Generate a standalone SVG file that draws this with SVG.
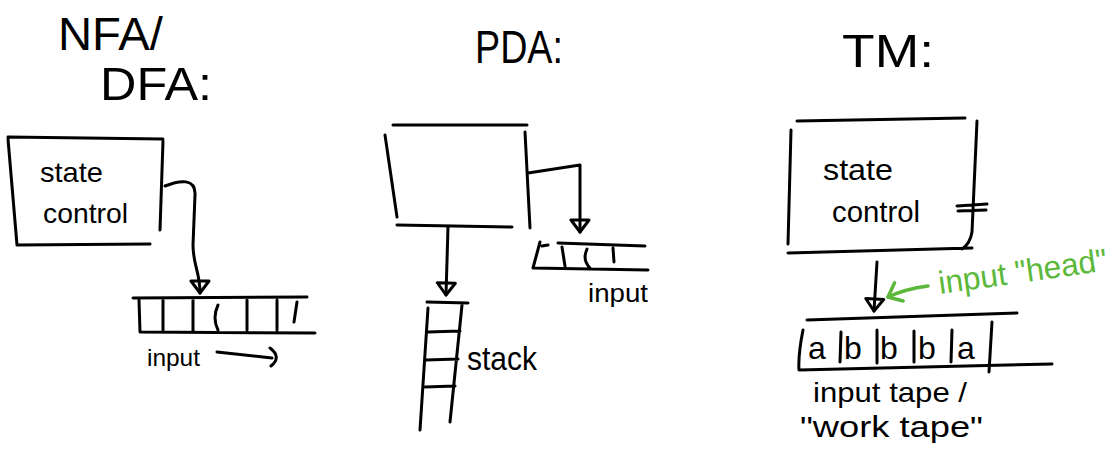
<svg xmlns="http://www.w3.org/2000/svg" width="1113" height="449" viewBox="0 0 1113 449">
<defs>
<style>
.ln{fill:none;stroke:#000;stroke-width:3;stroke-linecap:round;stroke-linejoin:round}
.gl{fill:none;stroke:#5cb83a;stroke-width:3.5;stroke-linecap:round;stroke-linejoin:round}
.t{font-family:"Liberation Sans",Arial,sans-serif;fill:#000}
.g{font-family:"Liberation Sans",Arial,sans-serif;fill:#5cb83a}
</style>
<marker id="tri" viewBox="0 0 16 22" refX="14" refY="11" markerWidth="16" markerHeight="22" markerUnits="userSpaceOnUse" orient="auto">
<path d="M2,2 L14,11 L2,20 Z" fill="none" stroke="#000" stroke-width="3" stroke-linejoin="round"/>
</marker>
<marker id="chev" viewBox="0 0 16 24" refX="2" refY="12" markerWidth="16" markerHeight="24" markerUnits="userSpaceOnUse" orient="auto">
<path d="M14,2 L2,12 L14,22" fill="none" stroke="#5cb83a" stroke-width="3.5" stroke-linecap="round" stroke-linejoin="round"/>
</marker>
</defs>
<rect width="1113" height="449" fill="#fff"/>

<g id="title-nfa">
<text class="t" x="58" y="50" font-size="46" textLength="105" lengthAdjust="spacingAndGlyphs">NFA/</text>
<text class="t" x="100" y="100" font-size="46" textLength="112" lengthAdjust="spacingAndGlyphs">DFA:</text>
</g>
<g id="title-pda">
<text class="t" x="475" y="63" font-size="46" textLength="88" lengthAdjust="spacingAndGlyphs">PDA:</text>
</g>
<g id="title-tm">
<text class="t" x="842" y="67" font-size="46" textLength="92" lengthAdjust="spacingAndGlyphs">TM:</text>
</g>

<g id="nfa-control">
<path class="ln" d="M8,137 L163,139 M163,141 L160,230 M8,139 L17,245 L150,244"/>
<text class="t" x="40" y="182" font-size="28" textLength="63" lengthAdjust="spacingAndGlyphs">state</text>
<text class="t" x="43" y="223" font-size="28" textLength="85" lengthAdjust="spacingAndGlyphs">control</text>
</g>

<g id="nfa-tape">
<path class="ln" d="M133,298 L307,297 M139,300 L140,332 L315,333 M163,300 L163,330 M193,300 L193,331 M218,305 Q212,318 218,330 M247,300 L247,330 M277,300 L277,330 M297,302 L294,322"/>
<text class="t" x="147" y="366" font-size="24" textLength="53" lengthAdjust="spacingAndGlyphs">input</text>
<path class="ln" d="M217,352 L272,358 M270,348 Q282,357 271,366"/>
</g>

<g id="pda-control">
<path class="ln" d="M393,125 L527,125 M385,135 L397,217 M397,225 L512,227 M525,132 L530,228"/>
</g>

<g id="pda-stack">
<path class="ln" d="M427,302 L468,303 M428,308 L420,430 M462,305 L450,422 M428,332 L460,331 M426,360 L458,359 M425,387 L455,386"/>
<text class="t" x="467" y="370" font-size="34" textLength="70" lengthAdjust="spacingAndGlyphs">stack</text>
</g>

<g id="pda-input">
<path class="ln" d="M558,243 L645,246 M540,242 L533,268 L648,270 M542,246 L548,245 M562,247 L565,266 M587,249 Q582,260 590,268 M613,248 L614,262"/>
<text class="t" x="588" y="302" font-size="26" textLength="60" lengthAdjust="spacingAndGlyphs">input</text>
</g>

<g id="tm-control">
<path class="ln" d="M797,121 L965,118 M791,130 L788,244 M977,121 L972,232 Q970,244 962,249 M788,253 L972,248 M957,206 L987,204 M958,211 L986,210"/>
<text class="t" x="823" y="180" font-size="30" textLength="70" lengthAdjust="spacingAndGlyphs">state</text>
<text class="t" x="832" y="222" font-size="30" textLength="88" lengthAdjust="spacingAndGlyphs">control</text>
</g>

<g id="tm-tape">
<path class="ln" d="M807,320 L1017,313 M803,330 Q798,355 799,370 L1052,364 M841,332 L840,362 M877,330 L877,363 M914,331 L914,362 M952,330 L951,362 M992,322 L989,372"/>
<text class="t" x="808" y="359" font-size="32">a</text>
<text class="t" x="844" y="359" font-size="32">b</text>
<text class="t" x="880" y="359" font-size="32">b</text>
<text class="t" x="918" y="359" font-size="32">b</text>
<text class="t" x="957" y="359" font-size="32">a</text>
<text class="t" x="813" y="402" font-size="28" textLength="154" lengthAdjust="spacingAndGlyphs">input tape /</text>
<text class="t" x="800" y="437" font-size="30" textLength="183" lengthAdjust="spacingAndGlyphs">"work tape"</text>
</g>

<g id="tm-head-label">
<text class="g" x="940" y="294" font-size="32" textLength="170" lengthAdjust="spacingAndGlyphs" transform="rotate(-8 940 294)">input "head"</text>
</g>

<g id="connectors">
<path class="ln" marker-end="url(#tri)" d="M165,186 C180,180 196,178 195,195 L193,245 C193,265 200,272 200,293"/>
<path class="ln" marker-end="url(#tri)" d="M448,227 L446,295"/>
<path class="ln" marker-end="url(#tri)" d="M528,173 L580,165 L580,232"/>
<path class="ln" marker-end="url(#tri)" d="M877,262 L874,311"/>
<path class="gl" marker-start="url(#chev)" d="M888,297 Q905,289 928,286"/>
</g>
</svg>
